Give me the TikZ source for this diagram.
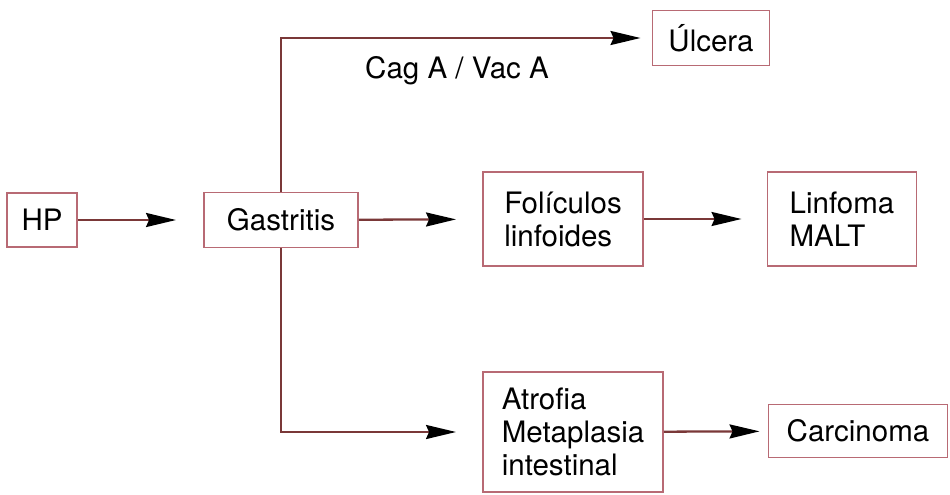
\documentclass[tikz,border=0pt]{standalone}
\usepackage{fontspec}
\setmainfont{TeX Gyre Heros}
\usetikzlibrary{arrows.meta}
\definecolor{boxline}{HTML}{B86A74}
\definecolor{arrline}{HTML}{7A3838}
\tikzset{
  box/.style={draw=boxline, line width=1.1pt, align=left, inner sep=0pt,
    font=\fontsize{16.8}{18.8}\selectfont},
  conn/.style={draw=arrline, line width=1.3pt,
    -{Stealth[length=0.6cm,width=0.28cm,inset=0.06cm,color=black]}},
}
\begin{document}
\begin{tikzpicture}[x=0.02cm,y=-0.02cm]
    \useasboundingbox (0,0) rectangle (950,494);
    % boxes
    \node[box, minimum width=1.4cm,  minimum height=1.08cm] (hp)   at (42,220)  {HP};
    \node[box, minimum width=3.08cm, minimum height=1.1cm]  (gast) at (281,220) {Gastritis};
    \node[box, minimum width=2.34cm, minimum height=1.1cm]  (ulc)  at (711,38)  {Úlcera};
    \node[box, minimum width=3.2cm,  minimum height=1.88cm] (fol)  at (563,219) {Folículos\\linfoides};
    \node[box, minimum width=2.98cm, minimum height=1.88cm] (lin)  at (842,219) {Linfoma\\MALT};
    \node[box, minimum width=3.6cm,  minimum height=2.4cm]  (atr)  at (573,432) {Atrofia\\Metaplasia\\intestinal};
    \node[box, minimum width=3.58cm, minimum height=1.06cm] (car)  at (858,431) {Carcinoma};
    \node[font=\fontsize{16.8}{18.8}\selectfont] (cag) at (457,71) {Cag A / Vac A};
    % connectors
    \foreach \a/\b/\gap in {hp/gast/0.54cm, gast/fol/0.52cm, fol/lin/0.5cm, atr/car/0.16cm} {
        \draw[conn, shorten >=\gap] (\a) -- (\b);
    }
    \draw[conn, shorten >=0.22cm] (gast.north) |- (ulc);
    \draw[conn, shorten >=0.52cm] (gast.south) |- (atr);
\end{tikzpicture}
\end{document}
